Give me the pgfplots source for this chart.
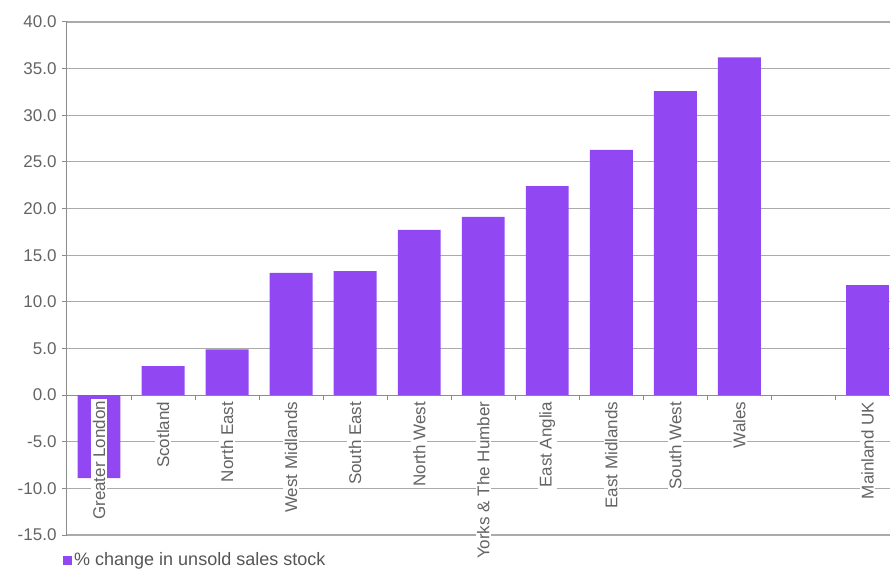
\documentclass[border=0pt]{standalone}
\usepackage{pgfplots}
\pgfplotsset{compat=1.18}
\usepackage{fontspec}
\setmainfont{Liberation Sans}
\definecolor{barpurple}{RGB}{145,72,242}
\definecolor{ticktext}{RGB}{100,100,100}
\definecolor{gridgray}{RGB}{170,170,170}
\definecolor{axisgray}{RGB}{140,140,140}
\tikzset{catlabel/.style={font=\fontsize{17}{20}\selectfont, text=ticktext, rotate=90, anchor=east, fill=white, inner sep=1.5pt}}
\begin{document}
\begin{tikzpicture}
\begin{axis}[
  scale only axis,
  width=823pt, height=513pt,
  xmin=-0.5, xmax=12.352,
  ymin=-15, ymax=40,
  axis x line=middle,
  axis y line=left,
  axis line style={-, draw=axisgray, line width=1pt},
  ytick={-15,-10,...,40},
  ymajorgrids,
  major grid style={draw=gridgray, line width=1.1pt},
  xtick={0,...,12},
  xticklabels={,Scotland,North East,West Midlands,South East,North West,Yorks \& The Humber,East Anglia,East Midlands,South West,Wales,,Mainland UK},
  minor xtick={0.5,1.5,...,11.5},
  xtick style={draw=none},
  minor x tick style={draw=axisgray, line width=1pt},
  ytick style={draw=axisgray, line width=1pt},
  tick align=outside,
  major tick length=5pt,
  minor tick length=5pt,
  /pgf/number format/assume math mode=true,
  yticklabel={\pgfmathprintnumber[fixed,fixed zerofill,precision=1]{\tick}},
  yticklabel style={font=\fontsize{17}{20}\selectfont, text=ticktext, xshift=-2pt},
  xticklabel style={catlabel},
  ybar, bar width=0.67,
  clip=true,
  legend style={at={(rel axis cs:0,0)}, anchor=west, xshift=-7pt, yshift=-25pt, draw=none, fill=none,
    font=\fontsize{18}{21}\selectfont, text=ticktext!85!black},
  legend image code/.code={\fill[#1] (0pt,-4.5pt) rectangle (9pt,4.5pt);},
]
\addplot[fill=barpurple, draw=none] coordinates {
 (0,-8.9) (1,3.1) (2,4.9) (3,13.1) (4,13.3) (5,17.7) (6,19.1)
 (7,22.4) (8,26.3) (9,32.6) (10,36.2) (11,0) (12,11.8)};
\addlegendentry{\% change in unsold sales stock}
\node[catlabel] at ([yshift=-4pt]axis cs:0,0) {Greater London};
\coordinate (LL) at (rel axis cs:0,0);
\coordinate (UR) at (rel axis cs:1,1);
\end{axis}
\pgfresetboundingbox
\path ([shift={(-67pt,-35pt)}]LL) rectangle ([shift={(0pt,22pt)}]UR);
\end{tikzpicture}
\end{document}
